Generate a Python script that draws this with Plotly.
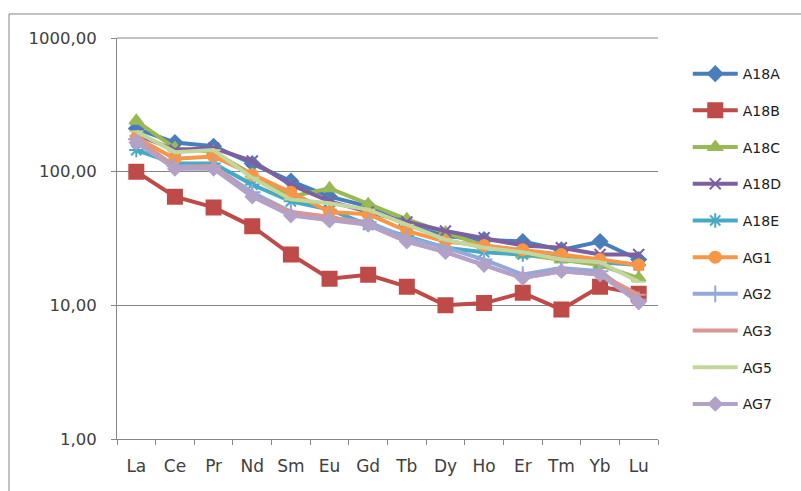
import plotly.graph_objects as go

elements = ["La", "Ce", "Pr", "Nd", "Sm", "Eu", "Gd", "Tb", "Dy", "Ho", "Er", "Tm", "Yb", "Lu"]

A18A = [210, 165, 155, 115, 85, 65, 55, 40, 33, 31, 30, 26, 30, 22]
A18B = [100, 65, 54, 39, 24, 15.8, 16.9, 13.8, 10, 10.4, 12.4, 9.3, 13.8, 12.2]
A18C = [240, 150, 140, 95, 65, 75, 57, 44, 35, 28, 24, 22, 20, 16]
A18D = [190, 145, 150, 120, 80, 60, 50, 42, 36, 32, 28, 27, 24, 24]
A18E = [145, 115, 115, 80, 60, 52, 40, 33, 27, 25, 24, 23, 21, 20]
AG1 = [180, 125, 130, 95, 70, 50, 48, 36, 30, 28, 26, 24, 22, 20]
AG2 = [175, 110, 110, 70, 50, 45, 42, 32, 27, 22, 17, 19, 18, 11]
AG3 = [185, 105, 110, 65, 50, 46, 40, 30, 25, 20, 16, 18, 17, 12]
AG5 = [200, 140, 145, 90, 62, 58, 52, 40, 31, 27, 25, 22, 21, 15]
AG7 = [165, 105, 105, 65, 47, 43, 40, 30, 25, 20, 16, 18, 17, 10.5]

y_tickvals = [1, 10, 100, 1000]
y_ticktext = ["1,00", "10,00", "100,00", "1000,00"]

series = [
    ("A18A", A18A, "#4A7EBB", "diamond", 11),
    ("A18B", A18B, "#BE4B48", "square", 14),
    ("A18C", A18C, "#98B954", "triangle-up", 12),
    ("A18D", A18D, "#7D60A0", "x-thin", 11),
    ("A18E", A18E, "#46AAC5", "asterisk", 12),
    ("AG1", AG1, "#F79646", "circle", 11),
    ("AG2", AG2, "#95A8DA", "cross-thin", 12),
    ("AG3", AG3, "#D99694", "line-ew", 10),
    ("AG5", AG5, "#C3D69B", "line-ew", 10),
    ("AG7", AG7, "#B3A2C7", "diamond", 10),
]

fig = go.Figure()
for i, (name, vals, col, sym, sz) in enumerate(series):
    fig.add_trace(go.Scatter(
        x=elements, y=vals, name=name, mode="lines+markers",
        legendgroup=f"g{i}",
        line=dict(color=col, width=4),
        marker=dict(symbol=sym, size=sz, color=col,
                    line=dict(color=col, width=2)),
    ))

fig.update_layout(
    width=801, height=491,
    margin=dict(l=117, r=143, t=38, b=52),
    paper_bgcolor="white", plot_bgcolor="white",
    separators=", ",
    font=dict(family="DejaVu Sans", size=14, color="#404040"),
    showlegend=True,
    legend=dict(x=1.055, y=0.95, xanchor="left", yanchor="top",
                tracegroupgap=15.5, itemwidth=45,
                font=dict(size=14, color="#202020"),
                bgcolor="rgba(0,0,0,0)"),
    xaxis=dict(
        type="category", showgrid=False, showline=True, linecolor="#868686",
        linewidth=1, ticks="outside", ticklen=5, tickcolor="#868686",
        tickson="boundaries", tickfont=dict(size=17, color="#404040"),
        ticklabelstandoff=12,
        range=[-0.5, 13.5],
    ),
    yaxis=dict(
        type="log", range=[0, 3], tickvals=y_tickvals, ticktext=y_ticktext,
        showgrid=True, gridcolor="#868686", gridwidth=1,
        showline=True, linecolor="#868686", linewidth=1,
        ticks="outside", ticklen=5, tickcolor="#868686",
        tickfont=dict(size=16.5, color="#404040"), zeroline=False,
        ticklabelstandoff=11,
    ),
    shapes=[
        dict(type="line", xref="paper", yref="paper",
             x0=-0.1996, x1=-0.1996, y0=-0.2, y1=1.0599,
             line=dict(color="#868686", width=1)),
        dict(type="line", xref="paper", yref="paper",
             x0=-0.1996, x1=1.3, y0=1.0599, y1=1.0599,
             line=dict(color="#868686", width=1)),
        dict(type="line", xref="paper", yref="paper",
             x0=0, x1=1, y0=1, y1=1, layer="below",
             line=dict(color="#868686", width=1)),
    ],
)

fig.write_html("out.html")
